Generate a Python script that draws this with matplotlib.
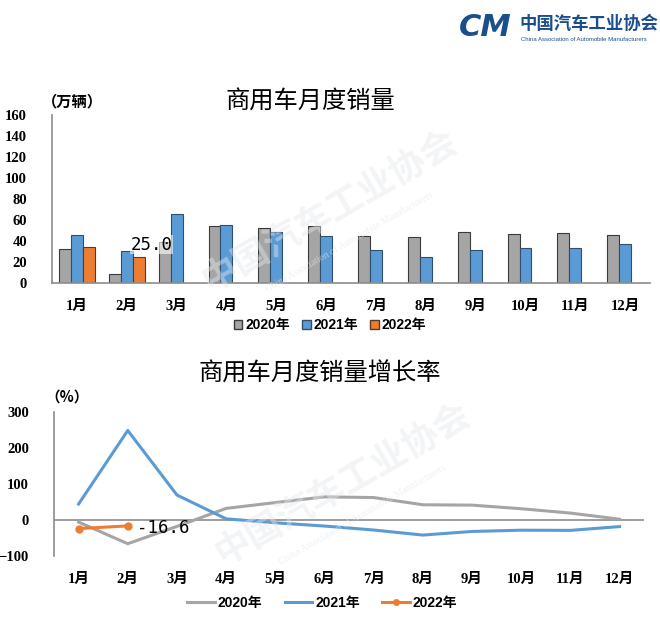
import numpy as np
import matplotlib
matplotlib.use('Agg')
import matplotlib.pyplot as plt
from matplotlib.lines import Line2D
from matplotlib.patches import Patch

plt.rcParams['font.family'] = ['Liberation Serif', 'Noto Sans CJK SC', 'DejaVu Sans']

months = ['1月', '2月', '3月', '4月', '5月', '6月', '7月', '8月', '9月', '10月', '11月', '12月']
years = ['2020年', '2021年', '2022年']

# 月度销量 (万辆)
sales_2020 = [32.4, 8.6, 38.7, 54.3, 52.7, 54.3, 45.0, 43.4, 48.2, 46.6, 47.6, 46.0]
sales_2021 = [46.0, 30.1, 65.7, 55.2, 48.5, 45.0, 31.4, 25.0, 31.7, 33.0, 33.3, 36.8]
sales_2022 = [34.6, 25.0]

# 增长率 (%)
growth_2020 = [-6, -66, -18, 32, 48, 64, 62, 42, 41, 31, 19, 2]
growth_2021 = [44, 248, 69, 3, -8, -17, -28, -42, -32, -28.5, -29, -18.5]
growth_2022 = [-24, -16.6]

C_GRAY = '#A5A5A5'
C_BLUE = '#5B9BD5'
C_ORANGE = '#ED7D31'
AXIS_C = '#8C8C8C'
TICK_FONT = {'fontsize': 10.5, 'fontweight': 'bold'}

fig = plt.figure(figsize=(6.6, 6.21), dpi=100)

# watermark (faint)
for (x, y) in [(0.50, 0.66), (0.52, 0.22)]:
    fig.text(x, y, '中国汽车工业协会', fontsize=26, rotation=30, color='#E3E7EC',
             alpha=0.45, family=['Noto Sans CJK SC'], fontweight='bold', zorder=0,
             ha='center', va='center')
    fig.text(x + 0.03, y - 0.05, 'China Association of Automobile Manufacturers',
             fontsize=7, rotation=30, color='#E3E7EC', alpha=0.6, zorder=0,
             ha='center', va='center')

# logo
fig.text(0.695, 0.955, 'CM', fontsize=22, fontweight='bold', style='italic',
         color='#1B4F8C', family=['DejaVu Sans'], va='center')
fig.text(0.787, 0.962, '中国汽车工业协会', fontsize=12.5, fontweight='bold',
         color='#1B4F8C', family=['Noto Sans CJK SC'], va='center')
fig.text(0.789, 0.936, 'China Association of Automobile Manufacturers', fontsize=4.3,
         color='#1B4F8C', family=['Liberation Sans'], va='center')

# ---------- top: sales bars ----------
ax1 = fig.add_axes([0.0788, 0.5443, 0.9062, 0.2705])
x = np.arange(len(months))
w = 0.24
ax1.bar(x - w, sales_2020, w, color=C_GRAY, edgecolor='#3A3A3A', linewidth=0.8, label=years[0])
ax1.bar(x, sales_2021, w, color=C_BLUE, edgecolor='#2F4F6F', linewidth=0.8, label=years[1])
ax1.bar(x[:len(sales_2022)] + w, sales_2022, w, color=C_ORANGE, edgecolor='#5A3A20',
        linewidth=0.8, label=years[2])
ax1.set_xlim(-0.5, 11.5)
ax1.set_ylim(0, 160)
ax1.set_yticks(np.arange(0, 161, 20))
ax1.set_xticks(x)
ax1.set_xticklabels(months, **TICK_FONT)
for lab in ax1.get_yticklabels():
    lab.set_fontsize(10.5)
    lab.set_fontweight('bold')
ax1.tick_params(axis='both', length=0)
ax1.tick_params(axis='y', pad=18)
ax1.tick_params(axis='x', pad=12)
for s in ['top', 'right']:
    ax1.spines[s].set_visible(False)
for s in ['left', 'bottom']:
    ax1.spines[s].set_color(AXIS_C)
    ax1.spines[s].set_linewidth(1.2)
ax1.patch.set_alpha(0)
ax1.text(1.5, sales_2022[1] + 3, f'{sales_2022[1]:.1f}', fontsize=12.5, ha='center', va='bottom',
         family=['DejaVu Sans Mono'],
         bbox=dict(facecolor='white', edgecolor='none', alpha=0.6, pad=0.5))
fig.text(0.47, 0.836, '商用车月度销量', fontsize=17.5, ha='center', va='center',
         family=['Noto Sans CJK SC'])
fig.text(0.063, 0.836, '（万辆）', fontsize=11, fontweight='bold', ha='left', va='center',
         family=['Noto Sans CJK SC'])
handles = [Patch(facecolor=C_GRAY, edgecolor='#3A3A3A', label=years[0]),
           Patch(facecolor=C_BLUE, edgecolor='#2F4F6F', label=years[1]),
           Patch(facecolor=C_ORANGE, edgecolor='#5A3A20', label=years[2])]
fig.legend(handles=handles, loc='center', bbox_to_anchor=(0.5, 0.476), ncol=3, frameon=False,
           prop={'family': ['Liberation Sans', 'Noto Sans CJK SC'], 'size': 10, 'weight': 'bold'},
           handlelength=0.6, handleheight=0.6, handletextpad=0.2, columnspacing=0.9)

# ---------- bottom: growth lines ----------
ax2 = fig.add_axes([0.0818, 0.1047, 0.8942, 0.2323])
ax2.plot(x, growth_2020, color=C_GRAY, linewidth=2.2, label=years[0])
ax2.plot(x, growth_2021, color=C_BLUE, linewidth=2.2, label=years[1])
ax2.plot(x[:len(growth_2022)], growth_2022, color=C_ORANGE, linewidth=2.2, marker='o',
         markersize=5, label=years[2])
ax2.axhline(0, color=AXIS_C, linewidth=1.2, zorder=0)
ax2.set_xlim(-0.5, 11.5)
ax2.set_ylim(-100, 300)
ax2.set_yticks([-100, 0, 100, 200, 300])
ax2.set_xticks(x)
ax2.set_xticklabels(months, **TICK_FONT)
for lab in ax2.get_yticklabels():
    lab.set_fontsize(10.5)
    lab.set_fontweight('bold')
ax2.tick_params(axis='both', length=0)
ax2.tick_params(axis='y', pad=18)
ax2.tick_params(axis='x', pad=12)
for s in ['top', 'right', 'bottom']:
    ax2.spines[s].set_visible(False)
ax2.spines['left'].set_color(AXIS_C)
ax2.spines['left'].set_linewidth(1.2)
ax2.patch.set_alpha(0)
ax2.text(1.18, growth_2022[1] - 6, f'{growth_2022[1]:.1f}', fontsize=12.5, ha='left',
         va='center', family=['DejaVu Sans Mono'])
fig.text(0.485, 0.399, '商用车月度销量增长率', fontsize=17.5, ha='center', va='center',
         family=['Noto Sans CJK SC'])
fig.text(0.068, 0.362, '（%）', fontsize=10.5, fontweight='bold', ha='left', va='center',
         family=['Noto Sans CJK SC'])
lh = [Line2D([], [], color=C_GRAY, linewidth=2.2, label=years[0]),
      Line2D([], [], color=C_BLUE, linewidth=2.2, label=years[1]),
      Line2D([], [], color=C_ORANGE, linewidth=2.2, marker='o', markersize=4, label=years[2])]
fig.legend(handles=lh, loc='center', bbox_to_anchor=(0.488, 0.029), ncol=3, frameon=False,
           prop={'family': ['Liberation Sans', 'Noto Sans CJK SC'], 'size': 10, 'weight': 'bold'},
           handlelength=2.0, handletextpad=0.2, columnspacing=1.6)

fig.savefig('out.png', dpi=100)
